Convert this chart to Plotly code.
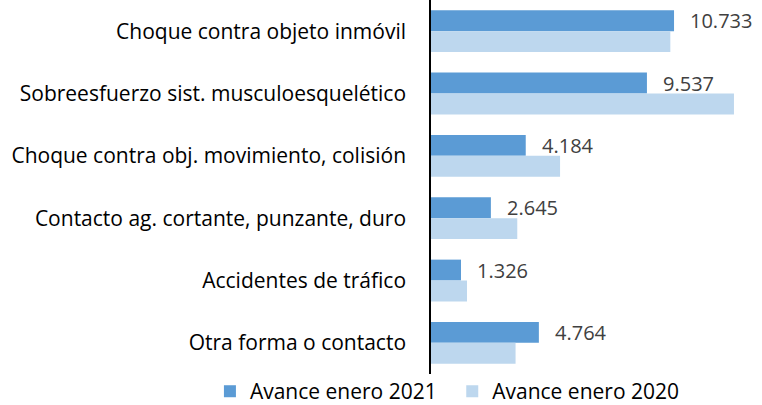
import plotly.graph_objects as go

categories = [
    "Choque contra objeto inmóvil",
    "Sobreesfuerzo sist. musculoesquelético",
    "Choque contra obj. movimiento, colisión",
    "Contacto ag. cortante, punzante, duro",
    "Accidentes de tráfico",
    "Otra forma o contacto",
]
avance_2021 = [10733, 9537, 4184, 2645, 1326, 4764]
avance_2020 = [10570, 13380, 5700, 3810, 1590, 3735]
series_names = ["Avance enero 2021", "Avance enero 2020"]

FONT = "'Open Sans', sans-serif"

fig = go.Figure()
fig.add_trace(go.Bar(y=categories, x=avance_2021, orientation="h", name=series_names[0],
                     marker=dict(color="#5B9BD5", line=dict(width=0)), legend="legend"))
fig.add_trace(go.Bar(y=categories, x=avance_2020, orientation="h", name=series_names[1],
                     marker=dict(color="#BDD7EE", line=dict(width=0)), legend="legend2"))

for c, v in zip(categories, avance_2021):
    fig.add_annotation(x=v, y=c, xref="x", yref="y", text=f"{v:,}".replace(",", "."),
                       showarrow=False, xanchor="left", yanchor="middle",
                       xshift=14, yshift=10.5,
                       font=dict(family=FONT, size=20, color="#404040"))

legend_common = dict(xref="container", yref="paper", xanchor="left", y=-0.047,
                     yanchor="middle", bgcolor="rgba(0,0,0,0)", itemwidth=30,
                     font=dict(family=FONT, size=21, color="#000000"))

fig.update_layout(
    width=762, height=405,
    margin=dict(l=431, r=14, t=0, b=31, autoexpand=False),
    paper_bgcolor="white", plot_bgcolor="white",
    barmode="group", bargap=0.33, bargroupgap=0,
    font=dict(family=FONT, size=21, color="#000000"),
    xaxis=dict(range=[0, 14000], showgrid=False, showticklabels=False, zeroline=False,
               showline=False, ticks=""),
    yaxis=dict(autorange="reversed", showline=True, linecolor="#000000", linewidth=1.5,
               ticks="", showgrid=False, ticklabelstandoff=19,
               tickfont=dict(family=FONT, size=21, color="#000000")),
    legend=dict(x=0.2755, **legend_common),
    legend2=dict(x=0.5935, **legend_common),
    showlegend=True,
)

fig.write_html("out.html", config={"displayModeBar": False},
               post_script="document.body.style.margin='0';")
